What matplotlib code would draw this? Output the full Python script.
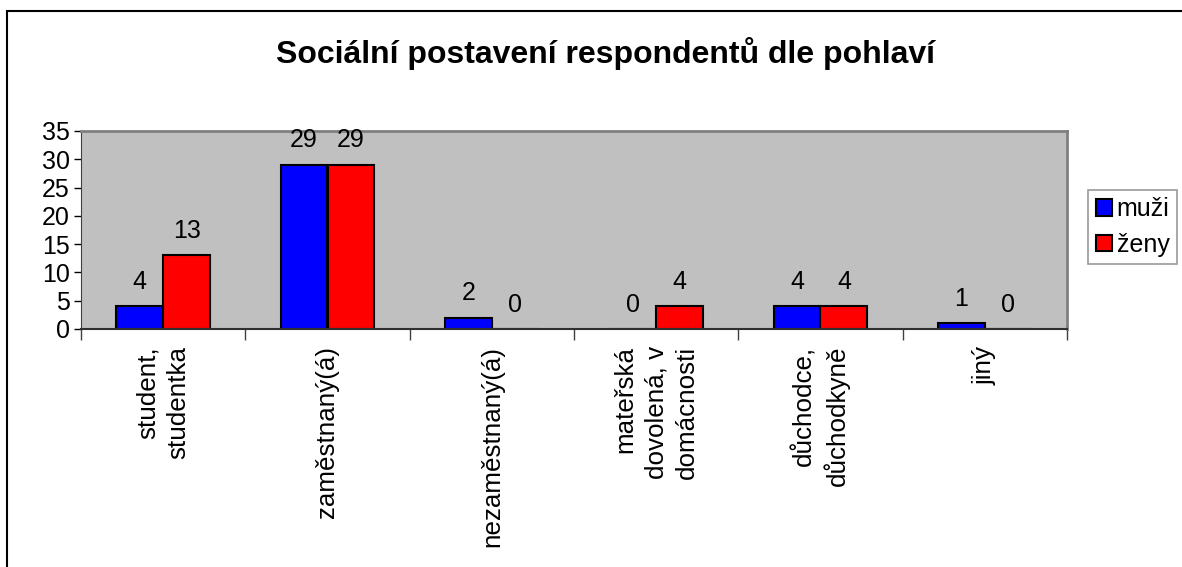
import matplotlib
matplotlib.use("Agg")
import matplotlib.pyplot as plt
import numpy as np
from matplotlib.patches import Rectangle

plt.rcParams["font.family"] = ["Liberation Sans", "DejaVu Sans"]

# data
categories = ["student,\nstudentka", "zaměstnaný(á)", "nezaměstnaný(á)",
              "mateřská\ndovolená, v\ndomácnosti", "důchodce,\ndůchodkyně", "jiný"]
muzi = [4, 29, 2, 0, 4, 1]
zeny = [13, 29, 0, 4, 4, 0]
series_names = ["muži", "ženy"]
title = "Sociální postavení respondentů dle pohlaví"

W, H = 1182, 567
fig = plt.figure(figsize=(W / 100, H / 100), dpi=100)
ax = fig.add_axes([81 / W, 1 - 329 / H, (1067 - 81) / W, (329 - 131) / H])
ax.set_facecolor("#C0C0C0")

x = np.arange(len(categories))
bw = 0.285
b1 = ax.bar(x - bw / 2, muzi, bw, color="#0000FF", edgecolor="black", linewidth=1.5,
            label=series_names[0])
b2 = ax.bar(x + bw / 2, zeny, bw, color="#FF0000", edgecolor="black", linewidth=1.5,
            label=series_names[1])
for bars in (b1, b2):
    ax.bar_label(bars, padding=9, fontsize=18)

ax.set_xlim(-0.5, len(categories) - 0.5)
ax.set_ylim(0, 35)
ax.set_yticks(range(0, 36, 5))
ax.tick_params(axis="y", labelsize=18, length=5, width=1, direction="out", pad=3)

# category labels
ax.set_xticks(np.arange(len(categories) + 1) - 0.5)
ax.set_xticklabels([])
ax.tick_params(axis="x", length=8, width=1, color="#404040")
for i, lab in enumerate(categories):
    ax.text(i, -3.0, lab, rotation=90, ha="center", va="top", multialignment="right",
            fontsize=18.7, linespacing=1.35, transform=ax.transData)

for s in ("top", "right"):
    ax.spines[s].set_color("#808080")
    ax.spines[s].set_linewidth(2)
ax.spines["left"].set_color("#404040")
ax.spines["bottom"].set_color("#303030")
ax.spines["bottom"].set_linewidth(1.5)

fig.text(605 / W, 1 - 54 / H, title, ha="center", va="center", fontsize=23, fontweight="bold")

leg = fig.legend(loc="upper left", bbox_to_anchor=(1088 / W, 1 - 190 / H), fontsize=18,
                 frameon=True, fancybox=False, edgecolor="#808080", handlelength=0.65,
                 handleheight=0.65, handletextpad=0.2, borderpad=0.3, labelspacing=0.45,
                 borderaxespad=0)
leg.get_frame().set_linewidth(1.2)

fig.add_artist(Rectangle((7 / W, -0.1), 1.2, 1 - 11 / H + 0.1, transform=fig.transFigure,
                         fill=False, edgecolor="black", linewidth=1.5))

fig.savefig("out.png", dpi=100)
